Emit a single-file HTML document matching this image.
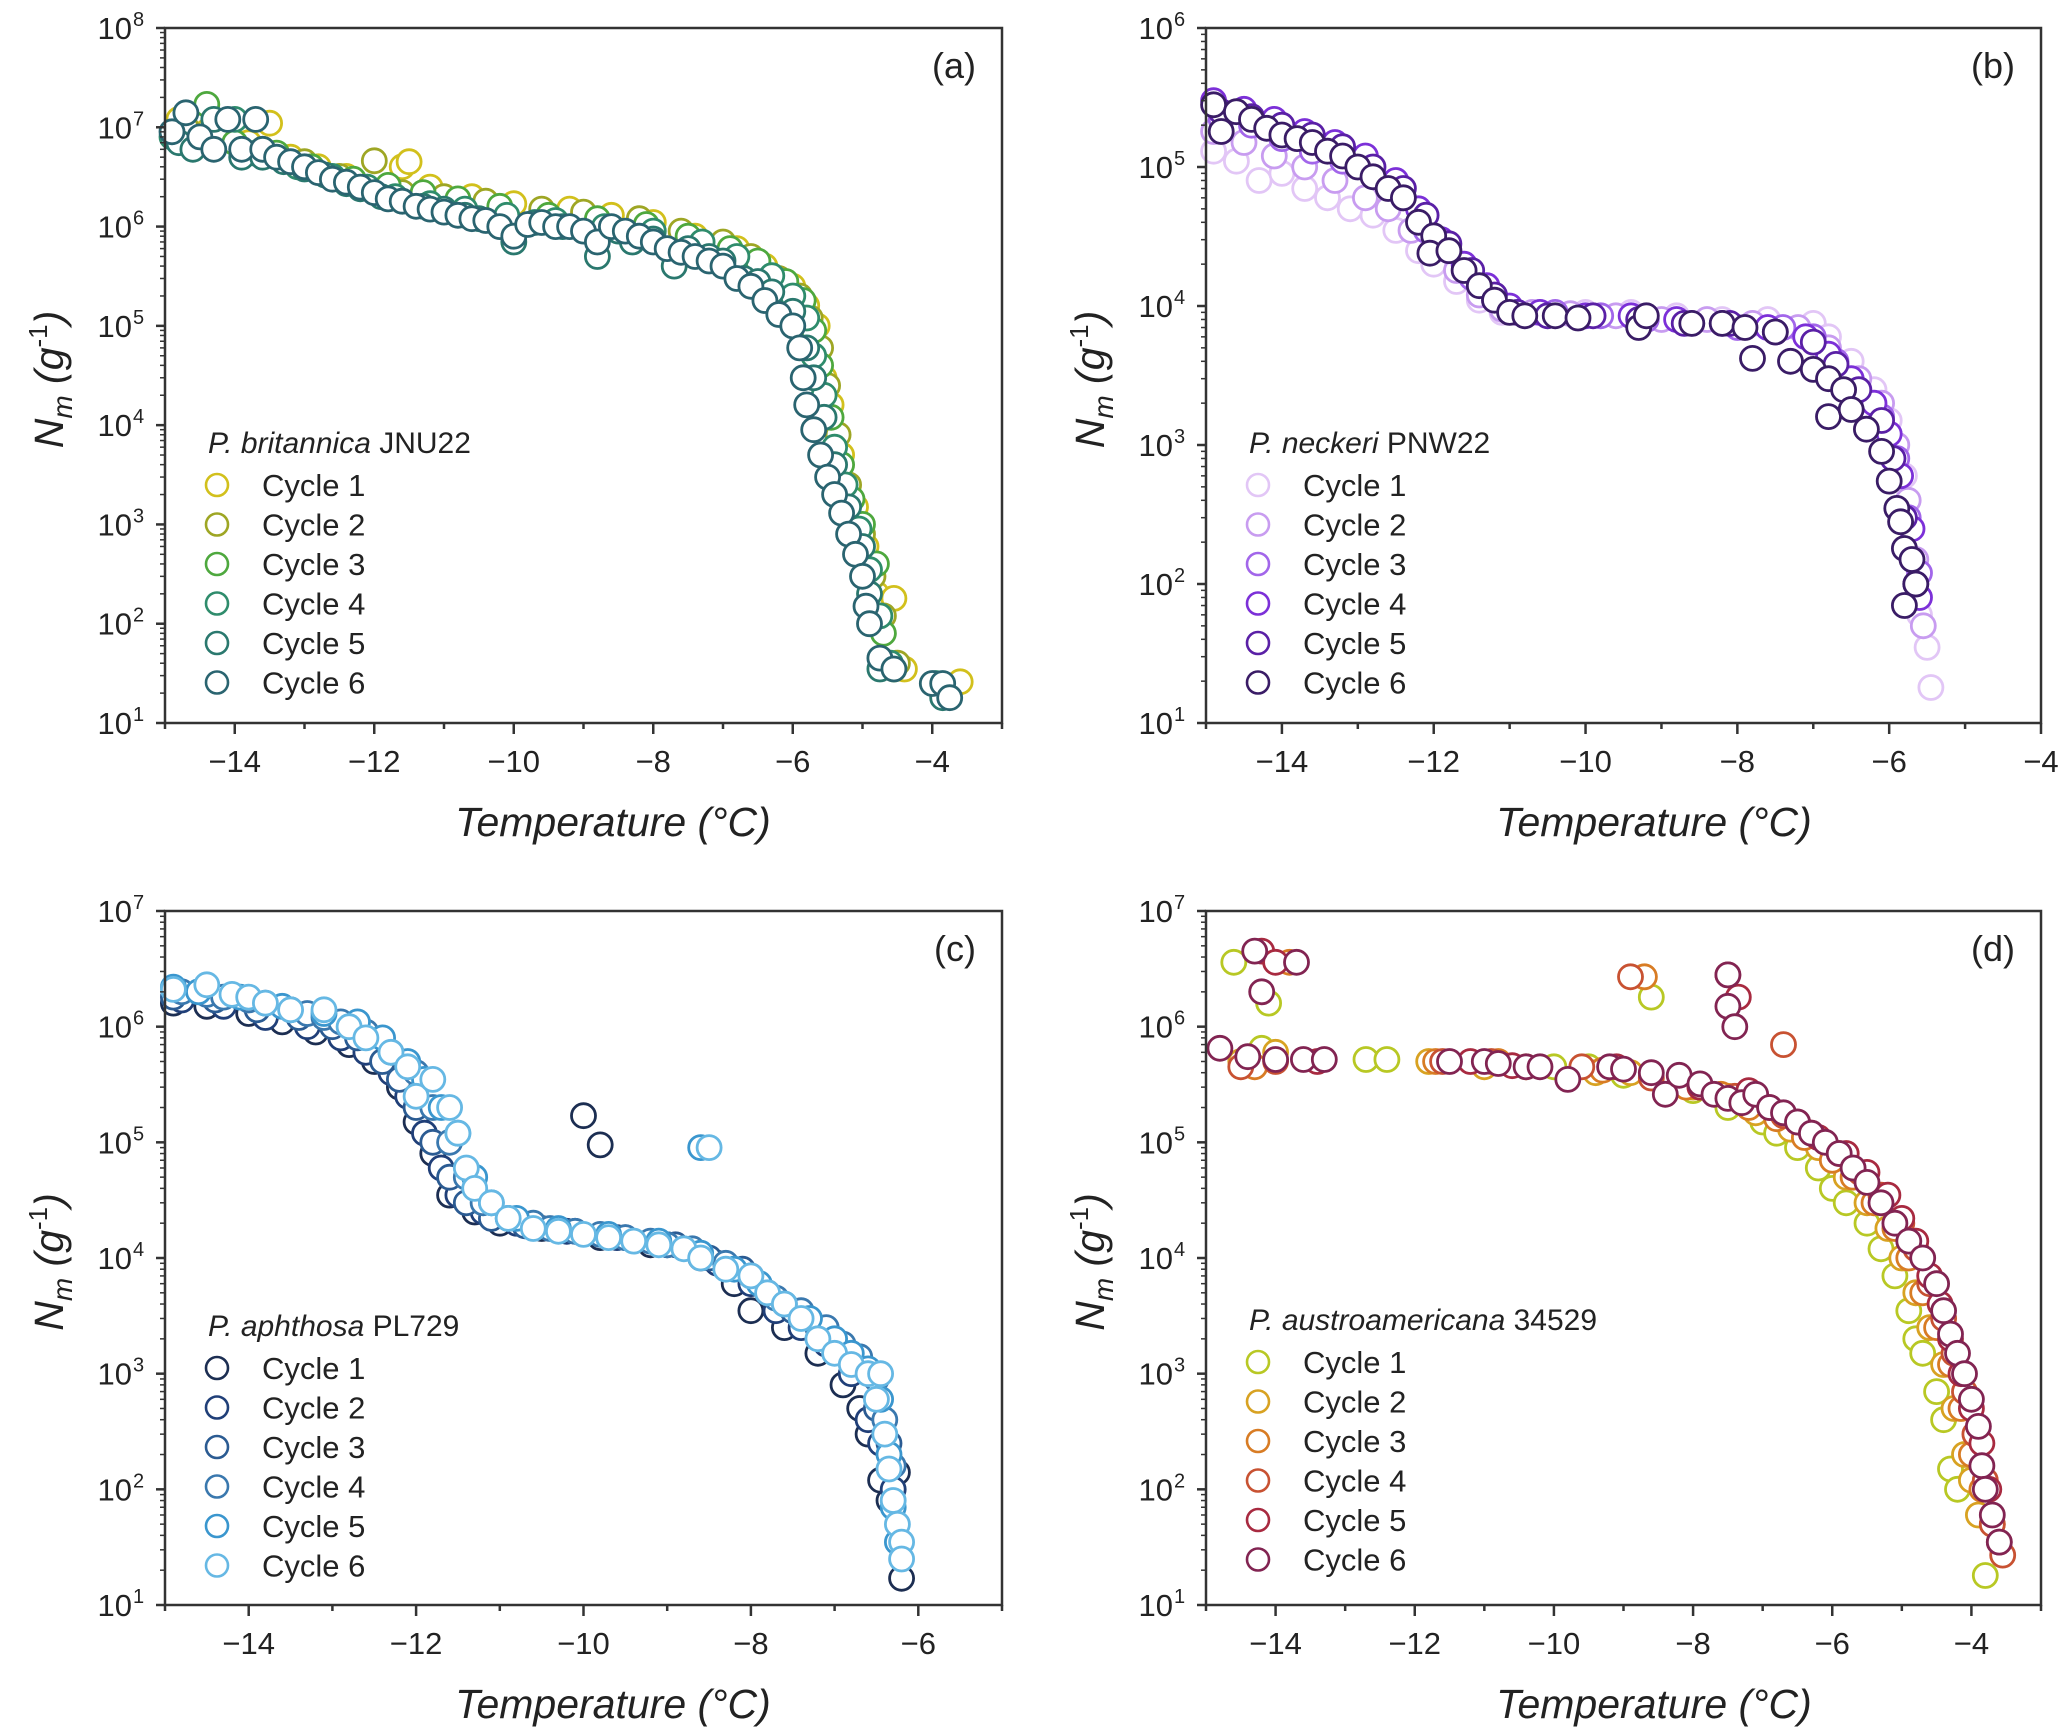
<!DOCTYPE html>
<html><head><meta charset="utf-8"><style>
html,body{margin:0;padding:0;background:#fff;}
svg{display:block;}
text{font-family:"Liberation Sans",Arial,sans-serif;fill:#222;}
</style></head>
<body>
<svg id="fig" width="2067" height="1727" viewBox="0 0 2067 1727" xmlns="http://www.w3.org/2000/svg"></svg>
<script>
// ---------- Panel (a) P. britannica JNU22 ----------
const a1=[[-14.8,1.2e7],[-14.4,9e6],[-13.8,7e6],[-13.5,1.1e7],[-13.2,5e6],[-12.8,4e6],[-12.4,3.2e6],[-11.6,4e6],[-11.5,4.5e6],[-11.2,2.5e6],[-10.6,2e6],[-10,1.7e6],[-9.2,1.5e6],[-8.6,1.3e6],[-8,1.1e6],[-7.4,8e5],[-6.8,6e5],[-6.4,4e5],[-6,2.5e5],[-5.8,1.6e5],[-5.65,1e5],[-5.55,3e4],[-5.45,1.6e4],[-5.3,5e3],[-5.1,1.5e3],[-4.95,6e2],[-4.8,2e2],[-4.55,1.8e2],[-4.4,3.5e1],[-3.6,2.6e1]];
const a2=[[-14.7,1e7],[-14.2,8e6],[-13.6,6e6],[-13.0,4.5e6],[-12.5,3.2e6],[-12.0,4.6e6],[-11.6,2.2e6],[-11.0,2e6],[-10.4,1.8e6],[-9.6,1.5e6],[-9.0,1.4e6],[-8.2,1.2e6],[-7.6,9e5],[-7.0,7e5],[-6.6,5e5],[-6.2,3e5],[-5.9,2e5],[-5.75,1.2e5],[-5.6,6e4],[-5.5,2.5e4],[-5.35,8e3],[-5.2,2.5e3],[-5.0,8e2],[-4.85,3e2],[-4.7,1.2e2],[-4.5,4e1]];
const a3=[[-14.4,1.7e7],[-14.0,7e6],[-13.4,5.5e6],[-12.9,4e6],[-12.3,3e6],[-11.8,2.6e6],[-11.3,2.2e6],[-10.8,1.9e6],[-10.2,1.6e6],[-9.5,1.3e6],[-8.8,1.2e6],[-8.1,1.05e6],[-7.5,8e5],[-6.9,6e5],[-6.5,4.5e5],[-6.1,2.8e5],[-5.85,1.8e5],[-5.7,9e4],[-5.6,4e4],[-5.45,1.2e4],[-5.3,4e3],[-5.15,1.8e3],[-5.0,1e3],[-4.8,4e2],[-4.7,8e1],[-4.55,3.5e1]];
const a4=[[-14.9,8e6],[-14.5,7e6],[-14.0,1.2e7],[-13.7,5.5e6],[-13.1,4e6],[-12.6,3.2e6],[-12.1,2.5e6],[-11.7,2e6],[-11.2,1.7e6],[-10.7,1.5e6],[-10.1,1.3e6],[-9.4,1.15e6],[-8.7,1e6],[-8.0,9e5],[-7.3,7e5],[-6.8,5e5],[-6.3,3.2e5],[-6.0,2e5],[-5.8,1.2e5],[-5.7,5e4],[-5.55,2e4],[-5.4,6e3],[-5.25,2.5e3],[-5.05,9e2],[-4.9,3.5e2],[-4.75,1.2e2],[-4.6,4e1],[-3.95,2.5e1]];
const a5=[[-14.8,7e6],[-14.6,6e6],[-14.3,1.2e7],[-13.9,5e6],[-13.6,5e6],[-13.3,4.5e6],[-13.0,3.8e6],[-12.7,3.3e6],[-12.4,2.7e6],[-12.2,2.4e6],[-11.9,2e6],[-11.6,1.8e6],[-11.3,1.6e6],[-11.0,1.5e6],[-10.7,1.3e6],[-10.5,1.2e6],[-10.0,7e5],[-9.7,1.1e6],[-9.3,1e6],[-8.8,5e5],[-8.5,9e5],[-8.3,7e5],[-8.0,7.5e5],[-7.7,4e5],[-7.5,6e5],[-7.2,5e5],[-7.0,4.5e5],[-6.7,3e5],[-6.5,2.8e5],[-6.3,2.2e5],[-6.0,1.4e5],[-5.8,6e4],[-5.7,3e4],[-5.55,1.2e4],[-5.4,4e3],[-5.2,1.5e3],[-5.0,6e2],[-4.9,2e2],[-4.75,3.5e1],[-3.85,1.8e1]];
const a6=[[-14.9,9e6],[-14.7,1.4e7],[-14.5,8e6],[-14.3,6e6],[-14.1,1.2e7],[-13.9,6e6],[-13.7,1.2e7],[-13.6,6e6],[-13.4,5e6],[-13.2,4.5e6],[-13.0,4e6],[-12.8,3.5e6],[-12.6,3e6],[-12.4,2.8e6],[-12.2,2.5e6],[-12.0,2.2e6],[-11.8,1.9e6],[-11.6,1.8e6],[-11.4,1.6e6],[-11.2,1.5e6],[-11.0,1.4e6],[-10.8,1.3e6],[-10.6,1.2e6],[-10.4,1.15e6],[-10.2,1.0e6],[-10.0,8e5],[-9.8,1.05e6],[-9.6,1.1e6],[-9.4,1.0e6],[-9.2,1.0e6],[-9.0,9e5],[-8.8,7e5],[-8.6,1e6],[-8.4,9e5],[-8.2,8e5],[-8.0,7e5],[-7.8,6e5],[-7.6,5.5e5],[-7.4,5e5],[-7.2,4.5e5],[-7.0,4e5],[-6.8,3e5],[-6.6,2.5e5],[-6.4,1.8e5],[-6.2,1.3e5],[-6.0,1e5],[-5.9,6e4],[-5.85,3e4],[-5.8,1.6e4],[-5.7,9e3],[-5.6,5e3],[-5.5,3e3],[-5.4,2e3],[-5.3,1.3e3],[-5.2,8e2],[-5.1,5e2],[-5.0,3e2],[-4.95,1.5e2],[-4.9,1e2],[-4.75,4.5e1],[-4.55,3.5e1],[-4.0,2.5e1],[-3.85,2.5e1],[-3.75,1.8e1]];
// ---------- Panel (b) P. neckeri PNW22 ----------
const b1=[[-14.9,1.3e5],[-14.6,1.1e5],[-14.3,8e4],[-14.0,9e4],[-13.7,7e4],[-13.4,6e4],[-13.1,5e4],[-12.8,4.5e4],[-12.5,3.5e4],[-12.2,2.5e4],[-12.0,2e4],[-11.7,1.5e4],[-11.4,1.1e4],[-11.1,9e3],[-10.6,9e3],[-10.0,9e3],[-9.4,9e3],[-8.8,8.5e3],[-8.2,8e3],[-7.6,8e3],[-7.0,7.5e3],[-6.8,6e3],[-6.5,4e3],[-6.2,2.5e3],[-6.0,1.5e3],[-5.8,6e2],[-5.7,2.5e2],[-5.6,6e1],[-5.5,3.5e1],[-5.45,1.8e1]];
const b2=[[-14.9,1.8e5],[-14.5,1.5e5],[-14.1,1.2e5],[-13.7,1e5],[-13.3,8e4],[-12.9,6e4],[-12.6,5e4],[-12.3,3.5e4],[-12.0,2.5e4],[-11.7,1.8e4],[-11.4,1.2e4],[-11.1,9.5e3],[-10.7,9e3],[-10.2,8.8e3],[-9.6,8.5e3],[-9.0,8e3],[-8.4,8e3],[-7.8,7.5e3],[-7.2,7e3],[-6.8,5e3],[-6.4,3e3],[-6.1,2e3],[-5.9,1e3],[-5.75,4e2],[-5.65,1.5e2],[-5.55,5e1]];
const b3=[[-14.8,2.2e5],[-14.4,2e5],[-14.0,1.6e5],[-13.6,1.3e5],[-13.2,1.1e5],[-12.8,9e4],[-12.4,6e4],[-12.1,3.5e4],[-11.8,2.5e4],[-11.5,1.6e4],[-11.2,1.1e4],[-10.9,9e3],[-10.4,9e3],[-9.8,8.5e3],[-9.2,8e3],[-8.6,7.5e3],[-8.0,7e3],[-7.4,7e3],[-7.0,6e3],[-6.7,4e3],[-6.4,2.5e3],[-6.1,1.6e3],[-5.9,8e2],[-5.75,3e2],[-5.6,1.2e2]];
const b4=[[-14.9,3e5],[-14.5,2.6e5],[-14.1,2.2e5],[-13.7,1.8e5],[-13.3,1.5e5],[-12.9,1.2e5],[-12.5,8e4],[-12.2,5e4],[-11.9,3e4],[-11.6,2e4],[-11.3,1.4e4],[-11.0,1e4],[-10.6,9e3],[-10.0,8.5e3],[-9.4,8.5e3],[-8.8,8e3],[-8.2,7.5e3],[-7.6,7e3],[-7.1,6e3],[-6.8,4.5e3],[-6.5,3e3],[-6.2,2e3],[-6.0,1.2e3],[-5.85,6e2],[-5.7,2.5e2],[-5.6,8e1]];
const b5=[[-14.8,2.5e5],[-14.4,2.3e5],[-14.0,2e5],[-13.6,1.7e5],[-13.2,1.4e5],[-12.8,1e5],[-12.4,7e4],[-12.1,4.5e4],[-11.8,2.8e4],[-11.5,1.8e4],[-11.2,1.2e4],[-10.9,9e3],[-10.5,8.5e3],[-9.9,8.5e3],[-9.3,8e3],[-8.7,7.5e3],[-8.1,7.5e3],[-7.5,6.5e3],[-7.0,5.5e3],[-6.7,3.8e3],[-6.4,2.5e3],[-6.1,1.5e3],[-5.95,8e2],[-5.8,3e2],[-5.65,1e2]];
const b6=[[-14.9,2.8e5],[-14.8,1.8e5],[-14.6,2.5e5],[-14.4,2.2e5],[-14.2,1.9e5],[-14.0,1.7e5],[-13.8,1.6e5],[-13.6,1.5e5],[-13.4,1.3e5],[-13.2,1.2e5],[-13.0,1.0e5],[-12.8,8.5e4],[-12.6,7e4],[-12.4,6e4],[-12.2,4e4],[-12.0,3.2e4],[-12.05,2.4e4],[-11.8,2.5e4],[-11.6,1.8e4],[-11.4,1.4e4],[-11.2,1.1e4],[-11.0,9e3],[-10.8,8.5e3],[-10.4,8.5e3],[-10.1,8.2e3],[-9.3,7e3],[-9.2,8.5e3],[-8.6,7.5e3],[-8.2,7.5e3],[-7.9,7e3],[-7.5,6.5e3],[-7.8,4.2e3],[-7.3,4e3],[-7.0,3.5e3],[-6.8,1.6e3],[-6.8,3e3],[-6.6,2.5e3],[-6.5,1.8e3],[-6.3,1.3e3],[-6.1,9e2],[-6.0,5.5e2],[-5.9,3.5e2],[-5.85,2.8e2],[-5.8,1.8e2],[-5.7,1.5e2],[-5.65,1.0e2],[-5.8,7e1]];
// ---------- Panel (c) P. aphthosa PL729 ----------
const c1=[[-14.9,1.6e6],[-14.5,1.5e6],[-14.0,1.3e6],[-13.6,1.1e6],[-13.2,9e5],[-12.8,7e5],[-12.5,5e5],[-12.2,3e5],[-12.0,1.5e5],[-11.8,8e4],[-11.6,3.5e4],[-11.3,2.5e4],[-11.0,2e4],[-10.5,1.8e4],[-10.0,1.7e5],[-9.8,9.5e4],[-9.8,1.5e4],[-9.2,1.3e4],[-8.6,1e4],[-8.2,6e3],[-8.0,3.5e3],[-7.6,2.5e3],[-7.2,1.5e3],[-6.9,8e2],[-6.7,5e2],[-6.6,3e2],[-6.45,1.2e2],[-6.35,8e1],[-6.25,1.4e2],[-6.2,1.7e1]];
const c2=[[-14.8,1.7e6],[-14.3,1.5e6],[-13.8,1.2e6],[-13.3,1e6],[-12.9,8e5],[-12.6,6e5],[-12.3,4e5],[-12.1,2.5e5],[-11.9,1.2e5],[-11.7,6e4],[-11.5,3.5e4],[-11.2,2.5e4],[-10.8,2e4],[-10.2,1.7e4],[-9.6,1.5e4],[-9.0,1.3e4],[-8.4,9e3],[-8.0,6e3],[-7.7,3.5e3],[-7.4,2.5e3],[-7.1,1.8e3],[-6.8,1e3],[-6.6,4e2],[-6.45,2.5e2],[-6.3,1e2]];
const c3=[[-14.9,1.8e6],[-14.4,1.7e6],[-13.9,1.4e6],[-13.4,1.2e6],[-13.0,1e6],[-12.7,8e5],[-12.4,5e5],[-12.2,3.5e5],[-12.0,2e5],[-11.8,1e5],[-11.6,5e4],[-11.4,3e4],[-11.1,2.2e4],[-10.7,1.9e4],[-10.1,1.7e4],[-9.5,1.5e4],[-8.9,1.3e4],[-8.5,1e4],[-8.1,8e3],[-7.8,5e3],[-7.5,3.5e3],[-7.2,2.5e3],[-6.9,1.5e3],[-6.7,1.2e3],[-6.5,5e2],[-6.35,2.5e2]];
const c4=[[-14.8,2e6],[-14.5,1.9e6],[-14.3,1.8e6],[-14.0,1.7e6],[-13.8,1.6e6],[-13.5,1.4e6],[-13.3,1.3e6],[-13.1,1.2e6],[-12.9,1.1e6],[-12.6,9e5],[-12.3,6e5],[-12.0,4e5],[-11.8,2e5],[-11.6,1e5],[-11.4,5e4],[-11.2,3e4],[-10.9,2.2e4],[-10.6,2e4],[-10.4,1.8e4],[-10.1,1.7e4],[-9.8,1.6e4],[-9.5,1.5e4],[-9.2,1.4e4],[-9.0,1.3e4],[-8.7,1.2e4],[-8.3,9e3],[-8.0,7e3],[-7.7,4.5e3],[-7.4,3.5e3],[-7.1,2.5e3],[-6.9,1.8e3],[-6.7,1.4e3],[-6.5,9e2],[-6.4,4e2],[-6.3,1.6e2]];
const c5=[[-14.9,2.2e6],[-14.6,2e6],[-14.1,1.8e6],[-13.6,1.5e6],[-13.1,1.3e6],[-12.7,1.1e6],[-12.4,8e5],[-12.1,5e5],[-11.9,3.5e5],[-11.7,2e5],[-11.5,1.2e5],[-11.3,5e4],[-11.1,3e4],[-10.8,2.2e4],[-10.3,1.8e4],[-9.7,1.6e4],[-9.1,1.4e4],[-8.6,9e4],[-8.6,1.1e4],[-8.2,8e3],[-7.9,6e3],[-7.6,4e3],[-7.3,3e3],[-7.0,2e3],[-6.8,1.5e3],[-6.6,1.1e3],[-6.45,6e2],[-6.35,2e2],[-6.3,7e1],[-6.25,3.5e1]];
const c6=[[-14.9,2.1e6],[-14.5,2.3e6],[-14.2,1.9e6],[-14.0,1.8e6],[-13.8,1.6e6],[-13.5,1.4e6],[-13.1,1.4e6],[-12.8,1.0e6],[-12.6,8e5],[-12.3,6e5],[-12.1,4.5e5],[-12.0,2.5e5],[-11.8,3.5e5],[-11.6,2e5],[-11.5,1.2e5],[-11.4,6e4],[-11.3,4e4],[-11.1,3e4],[-10.9,2.2e4],[-10.6,1.8e4],[-10.3,1.7e4],[-10.0,1.6e4],[-9.7,1.5e4],[-9.4,1.4e4],[-9.1,1.3e4],[-8.8,1.2e4],[-8.6,1e4],[-8.5,9e4],[-8.3,8e3],[-8.0,7e3],[-7.8,5e3],[-7.6,4e3],[-7.4,3e3],[-7.2,2e3],[-7.0,1.5e3],[-6.8,1.2e3],[-6.6,1e3],[-6.45,1e3],[-6.5,6e2],[-6.4,3e2],[-6.35,1.5e2],[-6.3,8e1],[-6.25,5e1],[-6.2,3.5e1],[-6.2,2.5e1]];
// ---------- Panel (d) P. austroamericana 34529 ----------
const d1=[[-14.6,3.6e6],[-14.1,1.6e6],[-14.2,6.5e5],[-12.7,5.2e5],[-12.4,5.2e5],[-10.0,4.5e5],[-9.5,4.5e5],[-9.0,3.8e5],[-8.6,1.8e6],[-8.0,2.8e5],[-7.5,2e5],[-7.0,1.5e5],[-6.8,1.2e5],[-6.5,9e4],[-6.2,6e4],[-6.0,4e4],[-5.8,3e4],[-5.5,2e4],[-5.3,1.2e4],[-5.1,7e3],[-4.9,3.5e3],[-4.8,2e3],[-4.7,1.5e3],[-4.5,7e2],[-4.4,4e2],[-4.3,1.5e2],[-4.2,1e2],[-3.8,1.8e1]];
const d2=[[-14.5,5e5],[-14.0,6e5],[-11.8,5e5],[-11.0,4.5e5],[-10.4,4.5e5],[-9.4,4e5],[-8.9,4e5],[-8.0,3e5],[-7.5,2.5e5],[-7.1,1.8e5],[-6.6,1.3e5],[-6.2,9e4],[-5.8,5e4],[-5.5,3e4],[-5.2,1.8e4],[-5.0,1e4],[-4.8,5e3],[-4.6,2.5e3],[-4.4,1.2e3],[-4.25,5e2],[-4.1,2e2],[-4.0,1.2e2],[-3.9,6e1]];
const d3=[[-14.3,4.5e5],[-13.8,3.6e6],[-11.7,5e5],[-10.8,5e5],[-9.3,4.2e5],[-8.7,2.7e6],[-8.1,3e5],[-7.6,2.6e5],[-7.2,2e5],[-6.8,1.6e5],[-6.4,1.1e5],[-6.0,7e4],[-5.7,5e4],[-5.4,3e4],[-5.1,1.8e4],[-4.9,1e4],[-4.7,5e3],[-4.5,2.5e3],[-4.3,1.2e3],[-4.15,5e2],[-4.0,2e2],[-3.85,1e2],[-3.7,5e1]];
const d4=[[-14.5,4.5e5],[-14.0,5e5],[-11.6,5e5],[-10.9,5e5],[-9.6,4.5e5],[-8.9,2.7e6],[-8.6,3.6e5],[-7.9,3e5],[-7.4,2.5e5],[-6.7,7e5],[-6.7,1.7e5],[-6.3,1.2e5],[-5.9,8e4],[-5.6,5.5e4],[-5.3,3.5e4],[-5.0,2e4],[-4.8,1.2e4],[-4.6,6e3],[-4.4,3e3],[-4.25,1.5e3],[-4.1,7e2],[-3.95,3e2],[-3.8,1.2e2],[-3.7,5e1],[-3.55,2.7e1]];
const d5=[[-14.2,4.5e6],[-14.0,3.6e6],[-13.4,5e5],[-11.2,5e5],[-10.6,4.6e5],[-9.1,4.5e5],[-7.5,2.8e6],[-7.35,1.8e6],[-7.9,3e5],[-7.2,2.8e5],[-6.9,2e5],[-6.5,1.5e5],[-6.2,1.1e5],[-5.8,8e4],[-5.5,5.5e4],[-5.2,3.5e4],[-5.0,2.2e4],[-4.8,1.4e4],[-4.6,7e3],[-4.45,4e3],[-4.3,2e3],[-4.15,1e3],[-4.0,5e2],[-3.85,2.5e2],[-3.75,1e2],[-3.6,3.5e1]];
const d6=[[-14.8,6.5e5],[-14.3,4.5e6],[-14.2,2e6],[-13.7,3.6e6],[-14.4,5.5e5],[-14.0,5.2e5],[-13.6,5.2e5],[-13.3,5.2e5],[-11.5,5e5],[-11.0,5e5],[-10.8,4.8e5],[-10.4,4.5e5],[-10.2,4.5e5],[-9.8,3.5e5],[-9.2,4.5e5],[-9.0,4.3e5],[-8.6,4e5],[-8.4,2.6e5],[-8.2,3.8e5],[-7.9,3.2e5],[-7.7,2.6e5],[-7.5,2.8e6],[-7.5,1.5e6],[-7.4,1e6],[-7.5,2.4e5],[-7.3,2.2e5],[-7.1,2.6e5],[-6.9,2e5],[-6.7,1.8e5],[-6.5,1.5e5],[-6.3,1.2e5],[-6.1,1e5],[-5.9,8e4],[-5.7,6e4],[-5.5,4.5e4],[-5.3,3e4],[-5.1,2e4],[-4.9,1.4e4],[-4.7,1e4],[-4.5,6e3],[-4.4,3.5e3],[-4.3,2.2e3],[-4.2,1.5e3],[-4.1,1e3],[-4.0,6e2],[-3.9,3.5e2],[-3.85,1.6e2],[-3.8,1e2],[-3.7,6e1],[-3.6,3.5e1]];
// tick label arrays
const xTicksA=[-14,-12,-10,-8,-6,-4];
const xTicksB=[-14,-12,-10,-8,-6,-4];
const xTicksC=[-14,-12,-10,-8,-6];
const xTicksD=[-14,-12,-10,-8,-6,-4];
const legendA="P. britannica", legendAs=" JNU22";
const legendB="P. neckeri", legendBs=" PNW22";
const legendC="P. aphthosa", legendCs=" PL729";
const legendD="P. austroamericana", legendDs=" 34529";

const NS="http://www.w3.org/2000/svg";
const fig=document.getElementById('fig');
function el(tag,attrs,parent,txt){const e=document.createElementNS(NS,tag);for(const k in attrs)e.setAttribute(k,attrs[k]);if(txt!==undefined)e.textContent=txt;(parent||fig).appendChild(e);return e;}

const panels=[
 {id:'a',L:165,R:1002,T:28,B:723,x0:-15,x1:-3,e0:1,e1:8,xt:xTicksA,series:[a1,a2,a3,a4,a5,a6],
  colors:['#d2c01c','#9ea624','#4ea83e','#2f8c6c','#2a786e','#2a6470'],leg:[legendA,legendAs],legY:453},
 {id:'b',L:1206,R:2041,T:28,B:723,x0:-15,x1:-4,e0:1,e1:6,xt:xTicksB,series:[b1,b2,b3,b4,b5,b6],
  colors:['#e2c6f6','#c89cf0','#a266ea','#7c30d8','#5a20a6','#3a1c66'],leg:[legendB,legendBs],legY:453},
 {id:'c',L:165,R:1002,T:911,B:1605,x0:-15,x1:-5,e0:1,e1:7,xt:xTicksC,series:[c1,c2,c3,c4,c5,c6],
  colors:['#1c2e52','#203f78','#2b5b92','#3a78ae','#3a96ce','#66b8e4'],leg:[legendC,legendCs],legY:1336},
 {id:'d',L:1206,R:2041,T:911,B:1605,x0:-15,x1:-3,e0:1,e1:7,xt:xTicksD,series:[d1,d2,d3,d4,d5,d6],
  colors:['#b8c824','#d8a222','#d87c24','#c85232','#a82a40','#822452'],leg:[legendD,legendDs],legY:1330}
];

panels.forEach(p=>{
 const g=el('g',{});
 
 
 const X=v=>p.L+(v-p.x0)/(p.x1-p.x0)*(p.R-p.L);
 const Y=v=>p.B-(Math.log10(v)-p.e0)/(p.e1-p.e0)*(p.B-p.T);
 p.series.forEach((s,i)=>{
  const sg=el('g',{fill:'#fff',stroke:p.colors[i],'stroke-width':2.8},g);
  
  
  s.forEach(pt=>{
   const c=el('circle',{cx:X(pt[0]).toFixed(1),cy:Y(pt[1]).toFixed(1),r:12},sg);
   
   
  });
 });
 const fr=el('rect',{x:p.L,y:p.T,width:p.R-p.L,height:p.B-p.T,fill:'none',stroke:'#333','stroke-width':2.5},g);
 
 
 for(let e=p.e0;e<=p.e1;e++){
  const y=Y(Math.pow(10,e));
  el('line',{x1:p.L-9,x2:p.L,y1:y,y2:y,stroke:'#333','stroke-width':2.5},g);
  const t=el('text',{x:p.L-33,y:y+11,'font-size':31,'text-anchor':'end'},g,'10');
  
  
  el('text',{x:p.L-32,y:y-2,'font-size':20},g,String(e));
  if(e<p.e1){for(let m=2;m<10;m++){const ym=Y(m*Math.pow(10,e));el('line',{x1:p.L-5,x2:p.L,y1:ym,y2:ym,stroke:'#333','stroke-width':1.5},g);}}
 }
 for(let v=Math.ceil(p.x0);v<=p.x1;v++){
  const x=X(v);const major=p.xt.includes(v);
  el('line',{x1:x,x2:x,y1:p.B,y2:p.B+(major?11:6),stroke:'#333','stroke-width':2.5},g);
 }
 p.xt.forEach(v=>{
  const t=el('text',{x:X(v),y:p.B+49,'font-size':31,'text-anchor':'middle'},g,'\u2212'+Math.abs(v));
  
  
 });
 const xt=el('text',{x:p.L+448,y:p.B+113,'font-size':41,'font-style':'italic','text-anchor':'middle'},g,'Temperature (°C)');
 
 
 const yx=p.L-102,yc=(p.T+p.B)/2+4;
 const yt=el('text',{transform:`translate(${yx},${yc}) rotate(-90)`,'font-size':41,'text-anchor':'middle'},g);
 
 
 el('tspan',{'font-style':'italic'},yt,'N');
 el('tspan',{'font-style':'italic','font-size':28,dy:9},yt,'m');
 el('tspan',{'font-style':'italic',dy:-9},yt,' (g');
 el('tspan',{'font-size':26,dy:-16},yt,'-1');
 el('tspan',{'font-style':'italic',dy:16},yt,')');
 const pl=el('text',{x:p.R-26,y:p.T+50,'font-size':36,'text-anchor':'end'},g,'('+p.id+')');
 
 
 const lg=el('g',{},g);
 
 
 const lt=el('text',{x:p.L+43,y:p.legY,'font-size':30},lg);
 el('tspan',{'font-style':'italic'},lt,p.leg[0]);
 el('tspan',{},lt,p.leg[1]);
 p.colors.forEach((c,i)=>{
  const cy=p.legY+32+i*39.5;
  const ent=el('g',{},lg);
  
  
  el('circle',{cx:p.L+52,cy:cy,r:11,fill:'#fff',stroke:c,'stroke-width':2.6},ent);
  el('text',{x:p.L+97,y:cy+11,'font-size':31},ent,'Cycle '+(i+1));
 });
});
</script>
</body></html>
